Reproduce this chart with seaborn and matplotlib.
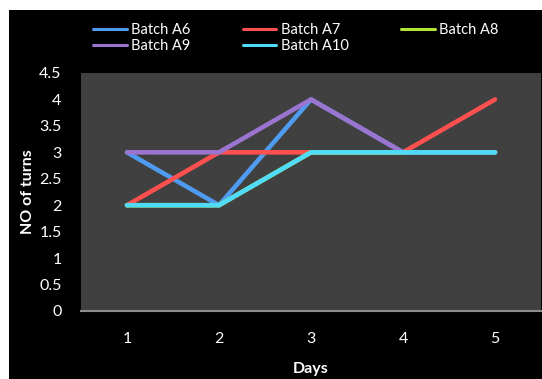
import matplotlib
matplotlib.use("Agg")
import matplotlib.pyplot as plt
from matplotlib.patches import Rectangle
import seaborn as sns
import pandas as pd

days = [1, 2, 3, 4, 5]
batch_a6 = [3, 2, 4, 3, 3]
batch_a7 = [2, 3, 3, 3, 4]
batch_a8 = [2, 2, 3, 3, 3]
batch_a9 = [3, 3, 4, 3, 3]
batch_a10 = [2, 2, 3, 3, 3]
series_names = ["Batch A6", "Batch A7", "Batch A8", "Batch A9", "Batch A10"]
series_colors = ["#4F9BEF", "#FF5050", "#B5E53A", "#9B74D0", "#4EDCF8"]
y_ticks = [0, 0.5, 1, 1.5, 2, 2.5, 3, 3.5, 4, 4.5]
y_tick_labels = ["0", "0.5", "1", "1.5", "2", "2.5", "3", "3.5", "4", "4.5"]

values = [batch_a6, batch_a7, batch_a8, batch_a9, batch_a10]
df = pd.DataFrame({
    "Days": days * len(series_names),
    "Turns": [v for vals in values for v in vals],
    "Batch": [n for n in series_names for _ in days],
})

sns.set_theme(style="white")
plt.rcParams["font.family"] = ["Lato", "DejaVu Sans"]

W, H = 542, 379
fig = plt.figure(figsize=(W / 100, H / 100), dpi=100, facecolor="white")
fig.patches.append(Rectangle((9 / W, 0), 1 - 9 / W, 1 - 10 / H,
                             transform=fig.transFigure, facecolor="black",
                             edgecolor="none", zorder=-10))
ax = fig.add_axes([81 / W, 1 - 311 / H, (541 - 81) / W, (311 - 73) / H])
ax.set_facecolor("#404040")

sns.lineplot(data=df, x="Days", y="Turns", hue="Batch", hue_order=series_names,
             palette=series_colors, linewidth=3.3, ax=ax, legend=False,
             solid_capstyle="round", solid_joinstyle="round")

ax.set_xlim(0.5, 5.5)
ax.set_ylim(0, 4.5)
ax.set_xticks(days)
ax.set_xticklabels([str(d) for d in days])
ax.set_yticks(y_ticks)
ax.set_yticklabels(y_tick_labels)
ax.tick_params(axis="both", colors="white", labelsize=11.5, length=0)
ax.tick_params(axis="x", pad=15)
ax.tick_params(axis="y", pad=14)
for s in ["top", "right", "left"]:
    ax.spines[s].set_visible(False)
ax.spines["bottom"].set_color("#8C8C8C")
ax.spines["bottom"].set_linewidth(1.5)

ax.set_xlabel("Days", color="white", fontsize=11.5, fontweight="bold", labelpad=12)
ax.set_ylabel("NO of turns", color="white", fontsize=11.5, fontweight="bold", labelpad=3)

handles = [plt.Line2D([], [], color=c, linewidth=2.2) for c in series_colors]
order = [0, 3, 1, 4, 2]
leg = fig.legend([handles[i] for i in order], [series_names[i] for i in order],
                 ncol=3, loc="upper left", bbox_to_anchor=(93 / W, 1 - 23 / H),
                 frameon=False, fontsize=10.5, handlelength=2.3, handletextpad=0.3,
                 columnspacing=3.6, labelspacing=0.15, borderaxespad=0,
                 borderpad=0)
for t in leg.get_texts():
    t.set_color("white")

fig.savefig("out.png", dpi=100, facecolor="white")
